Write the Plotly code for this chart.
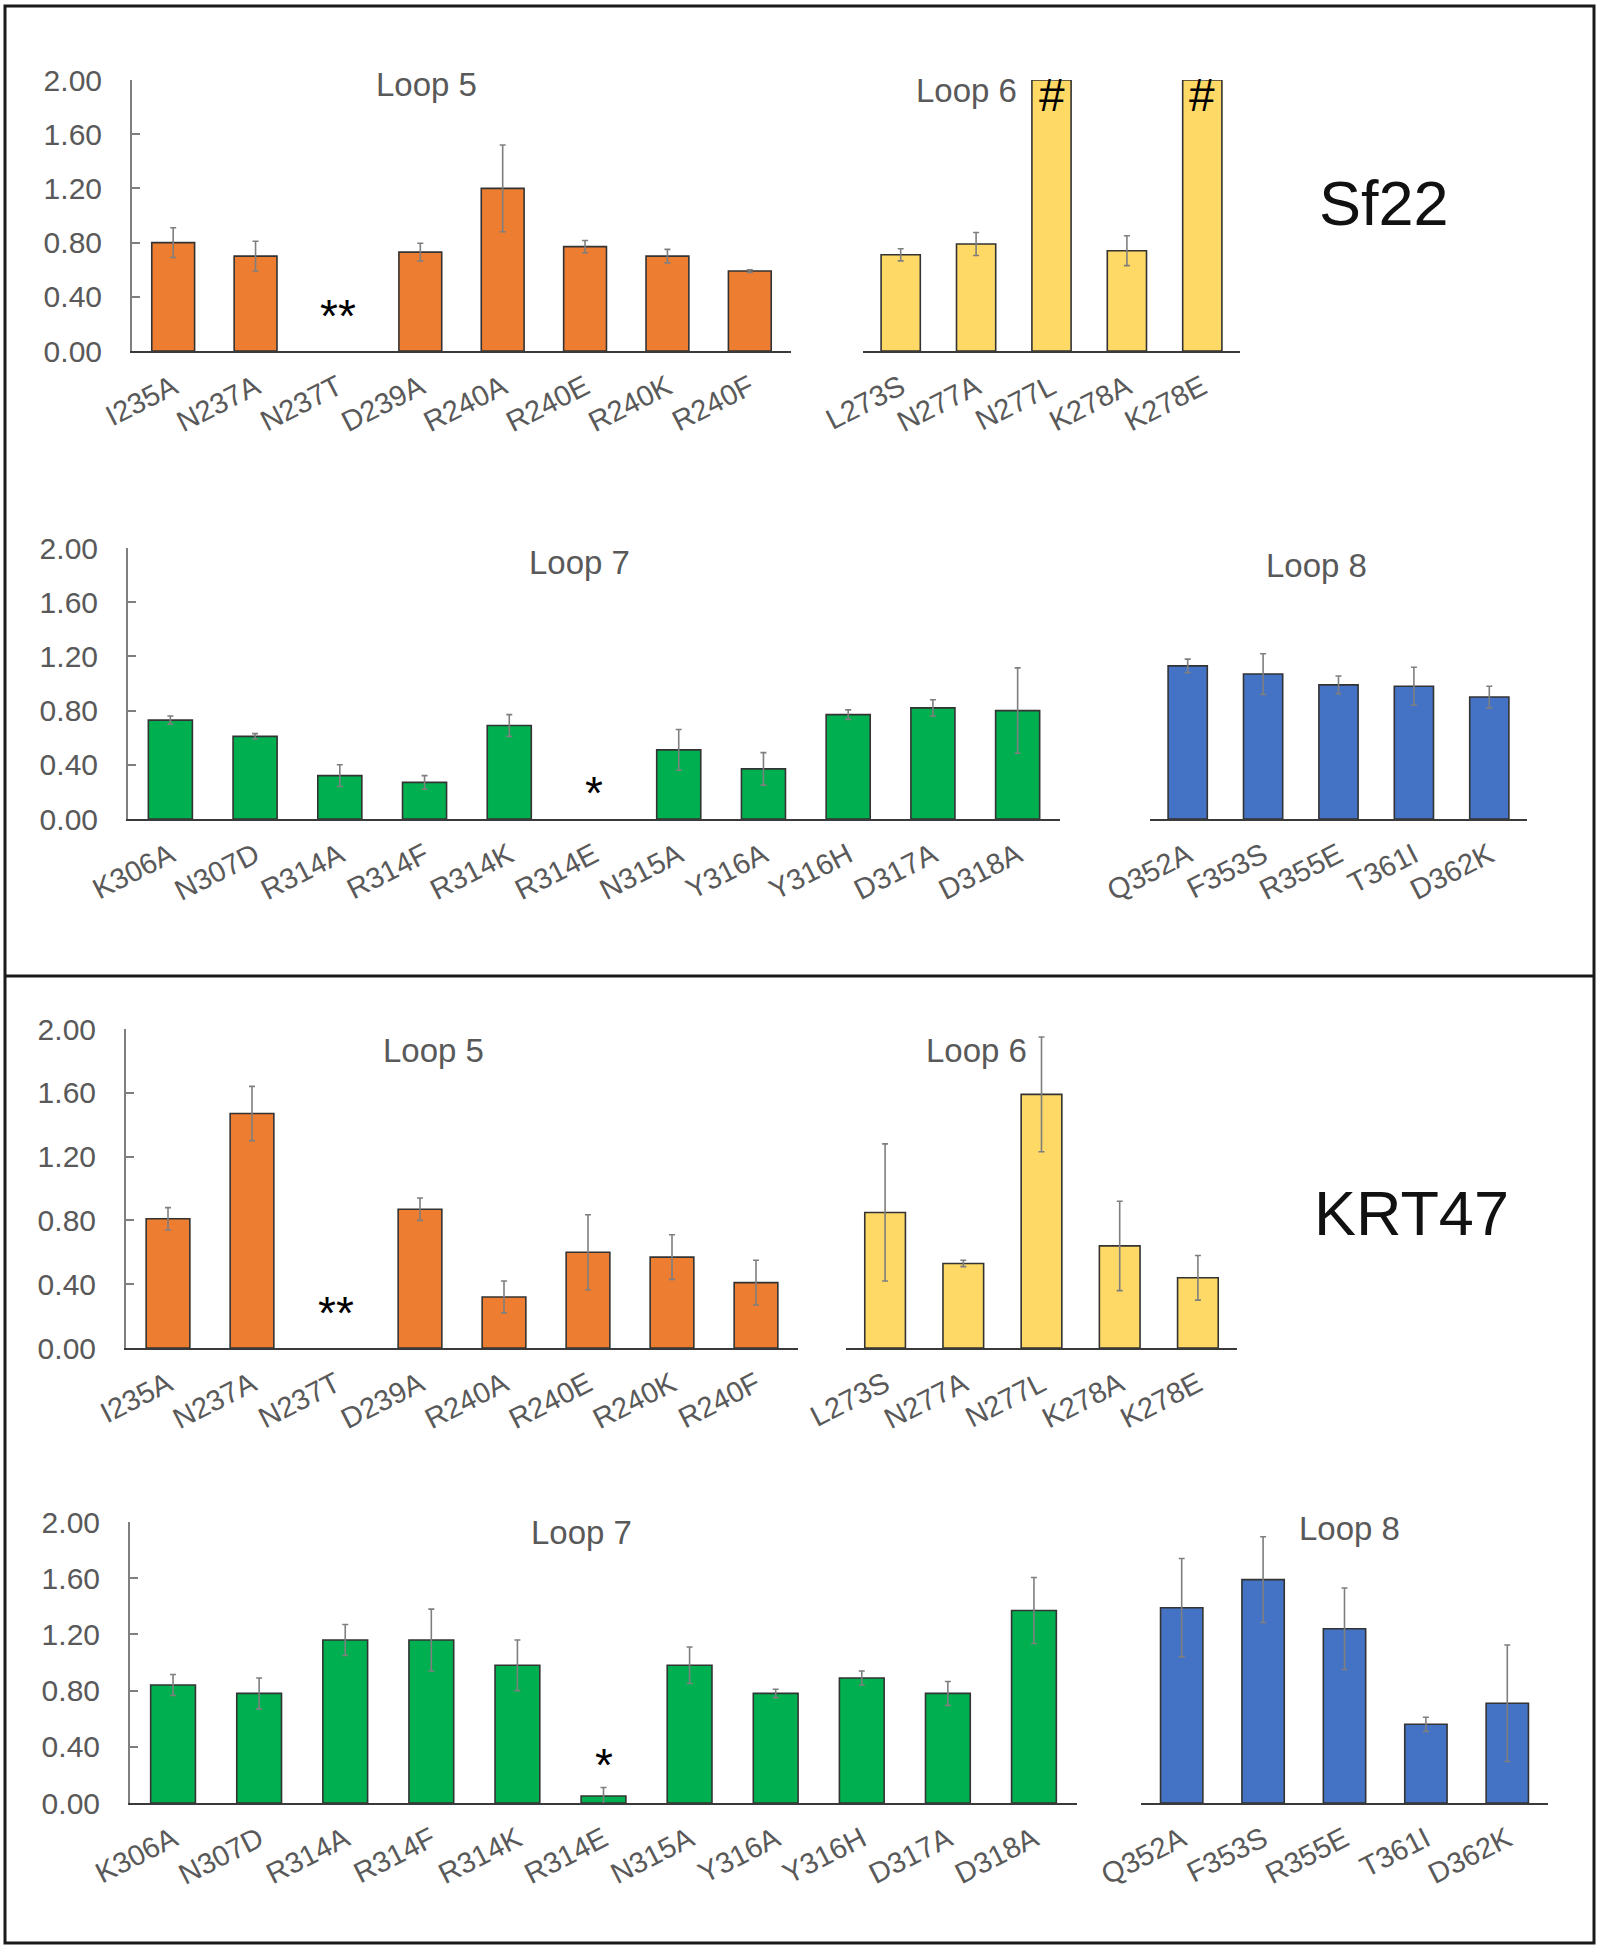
import plotly.graph_objects as go

# ---------------- data ----------------
loop5_labels = ["I235A", "N237A", "N237T", "D239A", "R240A", "R240E", "R240K", "R240F"]
loop6_labels = ["L273S", "N277A", "N277L", "K278A", "K278E"]
loop7_labels = ["K306A", "N307D", "R314A", "R314F", "R314K", "R314E", "N315A", "Y316A", "Y316H", "D317A", "D318A"]
loop8_labels = ["Q352A", "F353S", "R355E", "T361I", "D362K"]
y_ticks = [0.0, 0.4, 0.8, 1.2, 1.6, 2.0]

sf22_loop5_vals = [0.80, 0.70, None, 0.73, 1.20, 0.77, 0.70, 0.59]
sf22_loop5_err = [0.11, 0.11, None, 0.065, 0.32, 0.045, 0.05, 0.01]
sf22_loop6_vals = [0.71, 0.79, 2.00, 0.74, 2.00]
sf22_loop6_err = [0.045, 0.085, None, 0.11, None]
sf22_loop7_vals = [0.73, 0.61, 0.32, 0.27, 0.69, None, 0.51, 0.37, 0.77, 0.82, 0.80]
sf22_loop7_err = [0.03, 0.02, 0.08, 0.05, 0.08, None, 0.15, 0.12, 0.035, 0.06, 0.315]
sf22_loop8_vals = [1.13, 1.07, 0.99, 0.98, 0.90]
sf22_loop8_err = [0.05, 0.15, 0.065, 0.14, 0.08]

krt47_loop5_vals = [0.81, 1.47, None, 0.87, 0.32, 0.60, 0.57, 0.41]
krt47_loop5_err = [0.07, 0.17, None, 0.07, 0.10, 0.235, 0.14, 0.14]
krt47_loop6_vals = [0.85, 0.53, 1.59, 0.64, 0.44]
krt47_loop6_err = [0.43, 0.02, 0.36, 0.28, 0.14]
krt47_loop7_vals = [0.84, 0.78, 1.16, 1.16, 0.98, 0.05, 0.98, 0.78, 0.89, 0.78, 1.37]
krt47_loop7_err = [0.075, 0.11, 0.11, 0.22, 0.18, 0.06, 0.13, 0.03, 0.05, 0.085, 0.235]
krt47_loop8_vals = [1.39, 1.59, 1.24, 0.56, 0.71]
krt47_loop8_err = [0.35, 0.305, 0.29, 0.05, 0.415]

# significance marks: (panel, category, y-value, text)
marks = [
    (1, "N237T", 0.26, "**"),
    (2, "N277L", 1.89, "#"),
    (2, "K278E", 1.89, "#"),
    (3, "R314E", 0.19, "*"),
    (5, "N237T", 0.22, "**"),
    (7, "R314E", 0.27, "*"),
]

# ---------------- styling ----------------
W, H = 1601, 1950
ORANGE, YELLOW, GREEN, BLUE = "#ED7D31", "#FFD966", "#00B050", "#4472C4"
GREY = "#595959"
FONT = "Arial, Liberation Sans, sans-serif"

# panel layout in pixels: (x0, x1, ytop(2.0), ybottom(0.0))
panels = [
    (1, loop5_labels, sf22_loop5_vals, sf22_loop5_err, ORANGE, (132, 791, 80, 351), True, "Loop 5", (426, 85)),
    (2, loop6_labels, sf22_loop6_vals, sf22_loop6_err, YELLOW, (863, 1240, 80, 351), False, "Loop 6", (966, 90)),
    (3, loop7_labels, sf22_loop7_vals, sf22_loop7_err, GREEN, (128, 1060, 548, 819), True, "Loop 7", (579, 562)),
    (4, loop8_labels, sf22_loop8_vals, sf22_loop8_err, BLUE, (1150, 1527, 548, 819), False, "Loop 8", (1316, 565)),
    (5, loop5_labels, krt47_loop5_vals, krt47_loop5_err, ORANGE, (126, 798, 1029, 1348), True, "Loop 5", (434, 1050)),
    (6, loop6_labels, krt47_loop6_vals, krt47_loop6_err, YELLOW, (846, 1237, 1029, 1348), False, "Loop 6", (976, 1050)),
    (7, loop7_labels, krt47_loop7_vals, krt47_loop7_err, GREEN, (130, 1077, 1522, 1803), True, "Loop 7", (581, 1532)),
    (8, loop8_labels, krt47_loop8_vals, krt47_loop8_err, BLUE, (1141, 1548, 1522, 1803), False, "Loop 8", (1349, 1528)),
]


def px(x):
    return x / W


def py(y):
    return 1 - y / H


fig = go.Figure()
layout = dict(
    template="none",
    width=W, height=H, margin=dict(l=0, r=0, t=0, b=0, pad=0, autoexpand=False),
    paper_bgcolor="white", plot_bgcolor="white", showlegend=False,
    bargap=0.48, font=dict(family=FONT, color=GREY),
)
annotations = []

for idx, labels, vals, errs, color, (x0, x1, yt, yb), showy, title, (tx, ty) in panels:
    sfx = "" if idx == 1 else str(idx)
    fig.add_trace(go.Bar(
        x=labels, y=vals,
        marker=dict(color=color, line=dict(color="#333333", width=1.6)),
        error_y=dict(type="data", array=[e if e is not None else 0 for e in errs],
                     visible=True, color="#7f7f7f", thickness=1.6, width=3),
        xaxis="x" + sfx, yaxis="y" + sfx, cliponaxis=False,
    ))
    layout["xaxis" + sfx] = dict(
        domain=[px(x0), px(x1)], anchor="y" + sfx, type="category",
        categoryorder="array", categoryarray=labels,
        range=[-0.5, len(labels) - 0.5], automargin=False,
        showline=True, linecolor="#3a3a3a", linewidth=2,
        ticks="", tickangle=-27, tickfont=dict(size=29, color=GREY, family=FONT),
        showgrid=False, zeroline=False, fixedrange=True, ticklabelstandoff=6,
    )
    layout["yaxis" + sfx] = dict(
        domain=[py(yb), py(yt)], anchor="x" + sfx, range=[0, 2], automargin=False,
        tickvals=y_ticks, tickformat=".2f",
        showline=showy, linecolor="#7f7f7f", linewidth=2,
        ticks="inside" if showy else "", ticklen=8, tickcolor="#7f7f7f", tickwidth=2,
        showticklabels=showy, tickfont=dict(size=30, color=GREY, family=FONT),
        showgrid=False, zeroline=False, fixedrange=True, ticklabelstandoff=22,
    )
    annotations.append(dict(
        text=title, x=px(tx), y=py(ty), xref="paper", yref="paper",
        showarrow=False, xanchor="center", yanchor="middle",
        font=dict(size=33, color=GREY, family=FONT),
    ))

for idx, cat, yv, txt in marks:
    sfx = "" if idx == 1 else str(idx)
    annotations.append(dict(
        text=txt, x=cat, y=yv, xref="x" + sfx, yref="y" + sfx,
        showarrow=False, xanchor="center", yanchor="middle",
        font=dict(size=46, color="black", family=FONT),
    ))

annotations.append(dict(text="Sf22", x=px(1384), y=py(203), xref="paper", yref="paper",
                        xanchor="center", yanchor="middle",
                        showarrow=False, font=dict(size=63, color="#111111", family=FONT)))
annotations.append(dict(text="KRT47", x=px(1411), y=py(1213), xref="paper", yref="paper",
                        xanchor="center", yanchor="middle",
                        showarrow=False, font=dict(size=63, color="#111111", family=FONT)))

layout["annotations"] = annotations
layout["shapes"] = [
    dict(type="rect", xref="paper", yref="paper", x0=px(5), x1=px(1594), y0=py(1943), y1=py(6),
         line=dict(color="#1a1a1a", width=3)),
    dict(type="line", xref="paper", yref="paper", x0=px(5), x1=px(1594), y0=py(976), y1=py(976),
         line=dict(color="#1a1a1a", width=3)),
]

fig.update_layout(**layout)
fig.write_html("out.html", config={"displayModeBar": False},
               post_script="document.body.style.margin='0';document.body.style.overflow='hidden';")
